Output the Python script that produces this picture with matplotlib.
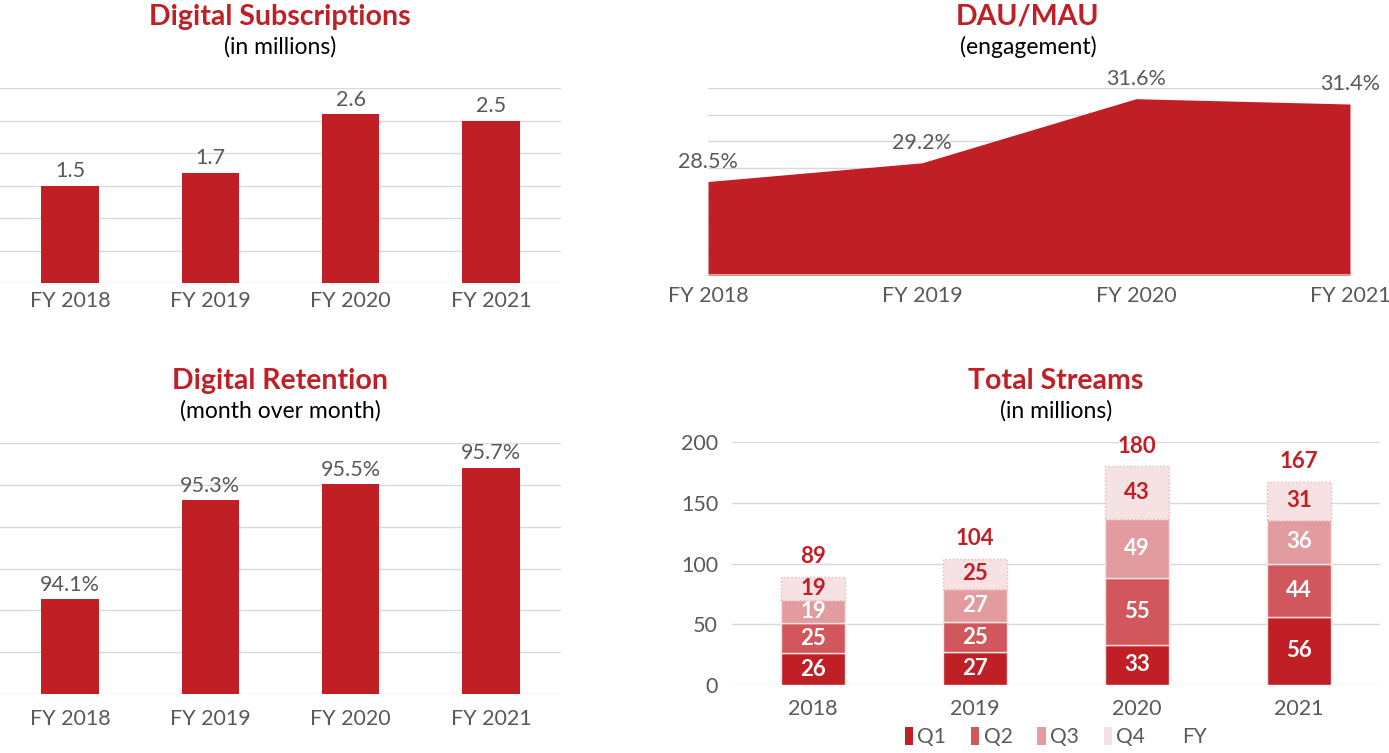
import matplotlib.pyplot as plt
from matplotlib.patches import Patch
import numpy as np

plt.rcParams['font.family'] = ['Lato', 'DejaVu Sans']

RED = '#C01F26'
GRAY = '#595959'
GRID = '#D9D9D9'

# data
years_fy = ['FY 2018', 'FY 2019', 'FY 2020', 'FY 2021']
subs = [1.5, 1.7, 2.6, 2.5]
dau_mau = [28.5, 29.2, 31.6, 31.4]
retention = [94.1, 95.3, 95.5, 95.7]

years = ['2018', '2019', '2020', '2021']
q1 = [26, 27, 33, 56]
q2 = [25, 25, 55, 44]
q3 = [19, 27, 49, 36]
q4 = [19, 25, 43, 31]
fy = [89, 104, 180, 167]
quarter_names = ['Q1', 'Q2', 'Q3', 'Q4']
quarter_colors = ['#C01F26', '#D2575D', '#E29B9F', '#F6E2E3']

W, H = 1389, 753
fig = plt.figure(figsize=(W / 100, H / 100), dpi=100)


def px_axes(x0, y0, x1, y1):
    # pixel box (top-left origin) -> figure axes
    return fig.add_axes([x0 / W, 1 - y1 / H, (x1 - x0) / W, (y1 - y0) / H])


def style(ax):
    for s in ax.spines.values():
        s.set_visible(False)
    ax.tick_params(length=0, labelsize=15.5, labelcolor=GRAY)
    ax.grid(axis='y', color=GRID, linewidth=1)
    ax.set_axisbelow(True)


def title(x, y, main, sub):
    fig.text(x / W, 1 - y / H, main, ha='center', va='center',
             fontsize=20.5, fontweight='bold', color=RED)
    fig.text(x / W, 1 - (y + 30) / H, sub, ha='center', va='center',
             fontsize=16.5, color='black')


x = np.arange(4)

# Digital Subscriptions
ax1 = px_axes(0, 88, 561, 283)
style(ax1)
ax1.bar(x, subs, width=0.41, color=RED)
ax1.set_xlim(-0.5, 3.5)
ax1.set_ylim(0, 3.0)
ax1.set_yticks(np.arange(0, 3.01, 0.5))
ax1.set_yticklabels([])
ax1.set_xticks(x)
ax1.set_xticklabels(years_fy)
ax1.tick_params(axis='x', pad=6)
for xi, v in zip(x, subs):
    ax1.annotate(f'{v}', (xi, v), xytext=(0, 3), textcoords='offset points',
                 ha='center', va='bottom', fontsize=15.5, color=GRAY)
title(280, 17, 'Digital Subscriptions', '(in millions)')

# DAU/MAU
ax2 = px_axes(708, 88, 1350, 275)
style(ax2)
ax2.fill_between(x, dau_mau, 25, color=RED, linewidth=0)
ax2.axhline(25, color='#E8A08A', linewidth=1.5)
ax2.set_xlim(0, 3)
ax2.set_ylim(25, 32)
ax2.set_yticks(np.arange(25, 32.1, 1))
ax2.set_yticklabels([])
ax2.set_xticks(x)
ax2.set_xticklabels(years_fy)
ax2.tick_params(axis='x', pad=8)
for xi, v in zip(x, dau_mau):
    ax2.annotate(f'{v}%', (xi, v), xytext=(0, 7), textcoords='offset points',
                 ha='center', va='bottom', fontsize=15.5, color=GRAY)
title(1028, 17, 'DAU/MAU', '(engagement)')

# Digital Retention
ax3 = px_axes(0, 443, 561, 694)
style(ax3)
ax3.bar(x, retention, width=0.41, color=RED)
ax3.set_xlim(-0.5, 3.5)
ax3.set_ylim(92.94, 96.0)
ax3.set_yticks(np.linspace(92.94, 96.0, 7))
ax3.set_yticklabels([])
ax3.set_xticks(x)
ax3.set_xticklabels(years_fy)
ax3.tick_params(axis='x', pad=11)
for xi, v in zip(x, retention):
    ax3.annotate(f'{v}%', (xi, v), xytext=(0, 3), textcoords='offset points',
                 ha='center', va='bottom', fontsize=15.5, color=GRAY)
title(280, 381, 'Digital Retention', '(month over month)')

# Total Streams
ax4 = px_axes(732, 442, 1380, 685)
style(ax4)
bottom = np.zeros(4)
for name, vals, col in zip(quarter_names, [q1, q2, q3, q4], quarter_colors):
    if name == 'Q4':
        ax4.bar(x, vals, bottom=bottom, width=0.4, color=col,
                edgecolor='#E8B4B6', linewidth=1, linestyle=':')
        tc = RED
    else:
        ax4.bar(x, vals, bottom=bottom, width=0.4, color=col,
                edgecolor='#F8E4E4', linewidth=1)
        tc = 'white'
    for xi, b, v in zip(x, bottom, vals):
        ax4.text(xi, b + v / 2, str(v), ha='center', va='center',
                 fontsize=16, fontweight='bold', color=tc)
    bottom += np.array(vals)
for xi, v in zip(x, fy):
    ax4.annotate(str(v), (xi, v), xytext=(0, 7), textcoords='offset points',
                 ha='center', va='bottom', fontsize=16, fontweight='bold', color=RED)
ax4.set_xlim(-0.5, 3.5)
ax4.set_ylim(0, 200)
ax4.set_yticks(np.arange(0, 201, 50))
ax4.set_xticks(x)
ax4.set_xticklabels(years)
ax4.tick_params(axis='x', pad=10)
ax4.tick_params(axis='y', pad=10)
title(1056, 381, 'Total Streams', '(in millions)')

handles = [Patch(facecolor=c, edgecolor='none') for c in quarter_colors]
handles.append(Patch(facecolor='none', edgecolor='none'))
fig.legend(handles, quarter_names + ['FY'], loc='center',
           bbox_to_anchor=(1056 / W, 1 - 737 / H), ncol=5, frameon=False,
           handlelength=0.4, handleheight=1.0, handletextpad=0.2,
           columnspacing=1.2, fontsize=15, labelcolor=GRAY)

fig.savefig('out.png', dpi=100)
